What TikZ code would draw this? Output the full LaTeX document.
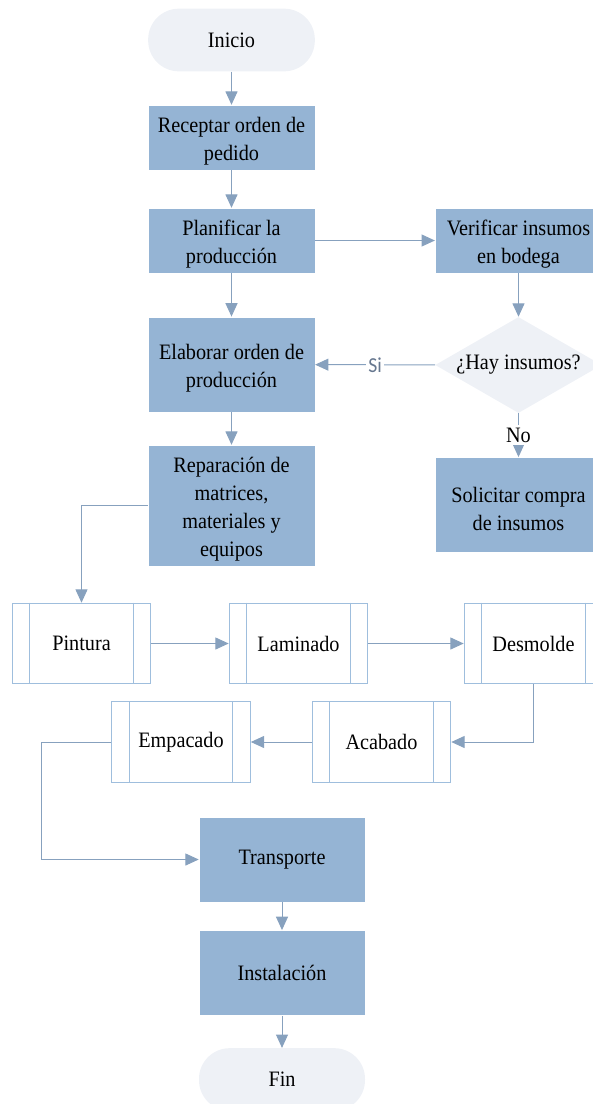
\documentclass[tikz,border=0pt]{standalone}
\usepackage{fontspec}
\setmainfont{Liberation Serif}[FakeStretch=0.92]
\newfontfamily\labelfont{Carlito}[FakeStretch=0.92]
\usepackage{xcolor}
\usetikzlibrary{arrows.meta,shapes.geometric,calc}

\definecolor{procblue}{HTML}{95B4D4}
\definecolor{termgray}{HTML}{EEF1F6}
\definecolor{linec}{HTML}{87A1BE}
\definecolor{subline}{HTML}{9FBEDD}
\definecolor{silabel}{HTML}{66778F}

% strut that pushes multi-line text a bit down
\newcommand{\topstrut}{\rule{0pt}{17.5pt}}

\begin{document}
\begin{tikzpicture}[
    x=0.75pt, y=-0.75pt,
    txt/.style={font=\fontsize{16.5}{21}\selectfont, align=center},
    term/.style={txt, rectangle, rounded corners=23pt, fill=termgray, minimum width=125pt, minimum height=47pt},
    proc/.style={txt, rectangle, fill=procblue, draw=white, line width=0.4pt, minimum width=125pt},
    subproc/.style={txt, rectangle, draw=subline, line width=0.7pt, fill=white, minimum width=104pt, minimum height=60.5pt},
    decision/.style={txt, diamond, fill=termgray, aspect=1.74, inner sep=0pt, minimum width=125pt, minimum height=72pt},
    conn/.style={draw=linec, line width=0.75pt, -{Triangle[length=10pt,width=9pt]}},
    sub/.style={draw=subline, line width=0.7pt}
]
    \clip (0,0) rectangle (593,1104);

    % Main column
    \node[term] (ini) at (231.5,40) {Inicio};
    \node[proc, minimum height=47pt] (rec) at (231.5,137.5) {\topstrut Receptar orden de\\pedido};
    \node[proc, minimum height=47pt] (plan) at (231.5,240.5) {\topstrut Planificar la\\producción};
    \node[proc, minimum height=71.5pt] (elab) at (231.5,364.5) {\topstrut Elaborar orden de\\producción};
    \node[proc, minimum height=90.5pt] (rep) at (231.5,505.5) {\topstrut Reparación de\\matrices,\\materiales y\\equipos};

    % Right column
    \node[proc, minimum height=47pt] (ver) at (518.5,240.5) {\topstrut Verificar insumos\\en bodega};
    \node[decision] (hay) at (518.5,365) {¿Hay insumos?};
    \node[proc, minimum height=71.5pt] (sol) at (518.5,505) {\topstrut Solicitar compra\\de insumos};

    % Subprocesses
    \node[subproc] (pint) at (81.5,643.5) {Pintura};
    \node[subproc] (lam) at (298.5,643.5) {Laminado};
    \node[subproc] (desm) at (533.5,643.5) {Desmolde};
    \node[subproc] (acab) at (381.5,742) {Acabado};
    \node[subproc] (emp) at (181,742) {Empacado};
    \foreach \n in {pint,lam,desm,acab,emp}
        \draw[sub] ([xshift=13.5pt]\n.north west) -- ([xshift=13.5pt]\n.south west)
                   ([xshift=-13.5pt]\n.north east) -- ([xshift=-13.5pt]\n.south east);

    % Last steps
    \node[proc, minimum width=124.5pt, minimum height=64pt] (trans) at (282,859.5) {Transporte};
    \node[proc, minimum width=124.5pt, minimum height=64pt] (inst) at (282,973) {Instalación};
    \node[term, minimum width=124.5pt] (fin) at (282,1079.5) {Fin};

    % Connectors
    \draw[conn] (ini) -- (rec);
    \draw[conn] (rec) -- (plan);
    \draw[conn] (plan) -- (elab);
    \draw[conn] (elab) -- (rep);
    \draw[conn] (plan) -- (ver);
    \draw[conn] (ver) -- (hay);
    \draw[conn] (hay) -- node[fill=white, inner sep=1.5pt, font=\labelfont\fontsize{16}{18}\selectfont, text=silabel] {Si} (elab);
    \draw[conn] (hay) -- node[fill=white, inner sep=2pt, txt] {No} (sol);
    \draw[conn] (rep.west) -| (pint.north);
    \draw[conn] (pint) -- (lam);
    \draw[conn] (lam) -- (desm);
    \draw[conn] (desm.south) |- (acab.east);
    \draw[conn] (acab) -- (emp);
    \draw[conn] (emp.west) -- ([xshift=-52.5pt]emp.west) |- (trans.west);
    \draw[conn] (trans) -- (inst);
    \draw[conn] (inst) -- (fin);
\end{tikzpicture}
\end{document}
